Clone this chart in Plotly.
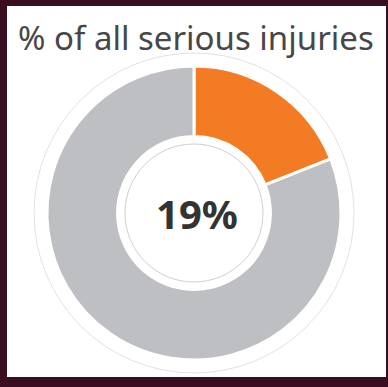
import plotly.graph_objects as go

# Share of all serious injuries
labels = ["This group", "All others"]
values = [19, 81]
colors = ["#F27B24", "#BEBFC3"]
title_text = "% of all serious injuries"
center_text = "19%"

W, H = 388, 387
cx, cy = 194, 213          # donut centre in pixels (from top)
r_out = 147                # donut outer radius
r_halo = 160               # pale ring around the donut
r_inner = 69               # thin outline inside the hole


def px_box(r):
    return dict(x0=(cx - r) / W, x1=(cx + r) / W,
                y0=(H - cy - r) / H, y1=(H - cy + r) / H)


fig = go.Figure(
    go.Pie(
        labels=labels,
        values=values,
        hole=0.52,
        sort=False,
        direction="clockwise",
        rotation=0,
        marker=dict(colors=colors, line=dict(color="white", width=3)),
        textinfo="none",
        hoverinfo="label+percent",
        showlegend=False,
        domain=dict(x=[(cx - r_out) / W, (cx + r_out) / W],
                    y=[(H - cy - r_out) / H, (H - cy + r_out) / H]),
    )
)

shapes = [
    # white card on the dark frame
    dict(type="rect", xref="paper", yref="paper",
         x0=7 / W, x1=386 / W, y0=(H - 377) / H, y1=(H - 6) / H,
         fillcolor="white", line=dict(width=0), layer="below"),
    # pale halo around the ring
    dict(type="circle", xref="paper", yref="paper", **px_box(r_halo),
         fillcolor="white", line=dict(color="#E2E2E4", width=1), layer="below"),
    # thin outline inside the hole
    dict(type="circle", xref="paper", yref="paper", **px_box(r_inner),
         fillcolor="rgba(0,0,0,0)", line=dict(color="#CFCFD2", width=1), layer="above"),
]

annotations = [
    dict(text=title_text, x=196 / W, y=(H - 38) / H, xref="paper", yref="paper",
         showarrow=False, xanchor="center", yanchor="middle",
         font=dict(family="Noto Sans", size=33, color="#474747")),
    dict(text="<b>" + center_text + "</b>", x=197 / W, y=(H - cy) / H,
         xref="paper", yref="paper", showarrow=False,
         xanchor="center", yanchor="middle",
         font=dict(family="Noto Sans", size=40, color="#333333")),
]

fig.update_layout(
    width=W, height=H,
    margin=dict(l=0, r=0, t=0, b=0),
    paper_bgcolor="#3A0E20",
    plot_bgcolor="#3A0E20",
    shapes=shapes,
    annotations=annotations,
)

fig.write_html("out.html")
